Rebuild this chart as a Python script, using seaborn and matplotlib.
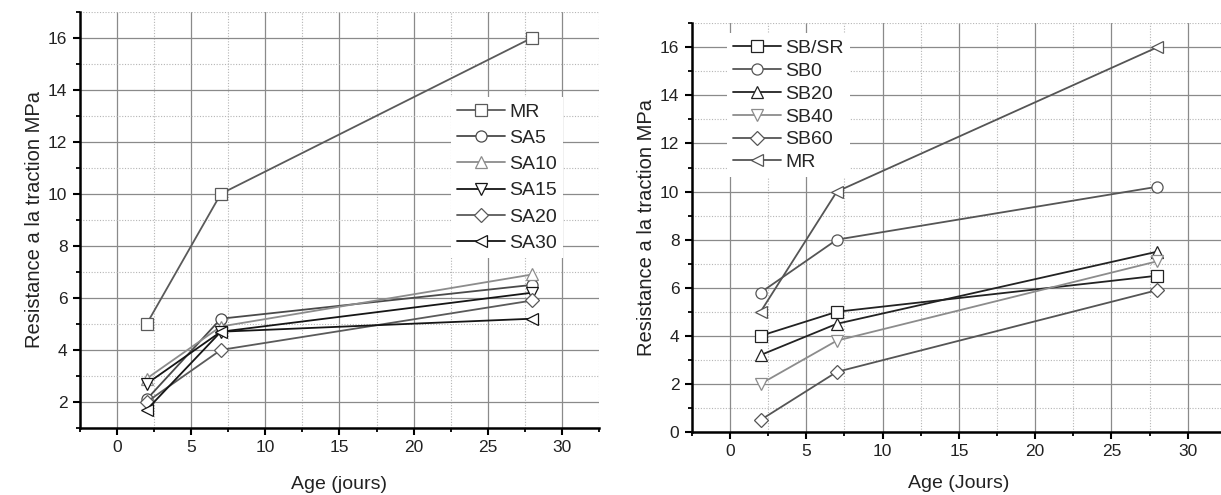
import matplotlib
matplotlib.use("Agg")
import matplotlib.pyplot as plt
import seaborn as sns
import numpy as np
import pandas as pd
from matplotlib.ticker import MultipleLocator

# ---- data ----
age = [2, 7, 28]

left_names = ["MR", "SA5", "SA10", "SA15", "SA20", "SA30"]
left_MR = [5.0, 10.0, 16.0]
left_SA5 = [2.1, 5.2, 6.5]
left_SA10 = [2.9, 4.9, 6.9]
left_SA15 = [2.7, 4.7, 6.2]
left_SA20 = [2.0, 4.0, 5.9]
left_SA30 = [1.7, 4.7, 5.2]
left_values = [left_MR, left_SA5, left_SA10, left_SA15, left_SA20, left_SA30]

right_names = ["SB/SR", "SB0", "SB20", "SB40", "SB60", "MR"]
right_SBSR = [4.0, 5.0, 6.5]
right_SB0 = [5.8, 8.0, 10.2]
right_SB20 = [3.2, 4.5, 7.5]
right_SB40 = [2.0, 3.8, 7.1]
right_SB60 = [0.5, 2.5, 5.9]
right_MR = [5.0, 10.0, 16.0]
right_values = [right_SBSR, right_SB0, right_SB20, right_SB40, right_SB60, right_MR]

x_ticks = [0, 5, 10, 15, 20, 25, 30]

# ---- styles ----
left_colors = ["#5a5a5a", "#4a4a4a", "#8c8c8c", "#151515", "#5a5a5a", "#151515"]
left_markers = ["s", "o", "^", "v", "D", "<"]
right_colors = ["#222222", "#555555", "#222222", "#8c8c8c", "#555555", "#555555"]
right_markers = ["s", "o", "^", "v", "D", "<"]

sns.set_style("white")
plt.rcParams["font.family"] = ["Liberation Sans", "DejaVu Sans"]

fig = plt.figure(figsize=(12.21, 4.95), dpi=100)
ax1 = fig.add_axes([0.0655, 0.1354, 0.4251, 0.841])
ax2 = fig.add_axes([0.5667, 0.1273, 0.4373, 0.8257])


def draw(ax, names, values, colors, markers, ylim, yticks, xlabel,
         xlabelpad, leg_anchor, leg_spacing):
    frames = []
    for n, v in zip(names, values):
        frames.append(pd.DataFrame({"age": age, "val": v, "serie": n}))
    df = pd.concat(frames, ignore_index=True)
    for n, c, m in zip(names, colors, markers):
        sub = df[df["serie"] == n]
        ms = 7 if m == "D" else 8
        sns.lineplot(data=sub, x="age", y="val", ax=ax, color=c, lw=1.3,
                     marker=m, markersize=ms, markerfacecolor="white",
                     markeredgecolor=c, markeredgewidth=0.9, label=n,
                     legend=False, zorder=3)
    ax.set_xlim(-2.5, 32.5)
    ax.set_ylim(*ylim)
    ax.set_xticks(x_ticks)
    ax.set_yticks(yticks)
    ax.xaxis.set_minor_locator(MultipleLocator(2.5))
    ax.yaxis.set_minor_locator(MultipleLocator(1))
    ax.set_axisbelow(True)
    ax.grid(which="major", color="#8a8a8a", lw=0.9, ls="-")
    ax.grid(which="minor", color="#b5b5b5", lw=0.8, ls=(0, (1, 1.5)))
    for s in ["top", "right"]:
        ax.spines[s].set_visible(False)
    for s in ["left", "bottom"]:
        ax.spines[s].set_color("black")
        ax.spines[s].set_linewidth(1.8)
    ax.tick_params(which="major", direction="out", length=5, width=1.5,
                   labelsize=12.5, colors="black", labelcolor="#222222",
                   left=True, bottom=True, pad=4)
    ax.tick_params(which="minor", direction="out", length=3, width=1.3,
                   colors="black", left=True, bottom=True)
    ax.set_xlabel(xlabel, fontsize=14, labelpad=xlabelpad, color="#222222")
    ax.set_ylabel("Resistance a la traction MPa", fontsize=14.5, labelpad=3,
                  color="#222222")
    handles, labels = ax.get_legend_handles_labels()
    leg = ax.legend(handles, labels, loc="upper left", bbox_to_anchor=leg_anchor,
                    borderaxespad=0, frameon=True, fontsize=14,
                    handlelength=2.45, handletextpad=0.25,
                    labelspacing=leg_spacing, borderpad=0.3)
    leg.get_frame().set_facecolor("white")
    leg.get_frame().set_edgecolor("none")
    leg.get_frame().set_alpha(1)
    leg.get_frame().set_boxstyle("square", pad=0)


draw(ax1, left_names, left_values, left_colors, left_markers, (1, 17),
     [2, 4, 6, 8, 10, 12, 14, 16], "Age (jours)", 15, (0.715, 0.794), 0.44)
draw(ax2, right_names, right_values, right_colors, right_markers, (0, 17),
     [0, 2, 4, 6, 8, 10, 12, 14, 16], "Age (Jours)", 11, (0.066, 0.975), 0.27)

fig.savefig("out.png", dpi=100)
